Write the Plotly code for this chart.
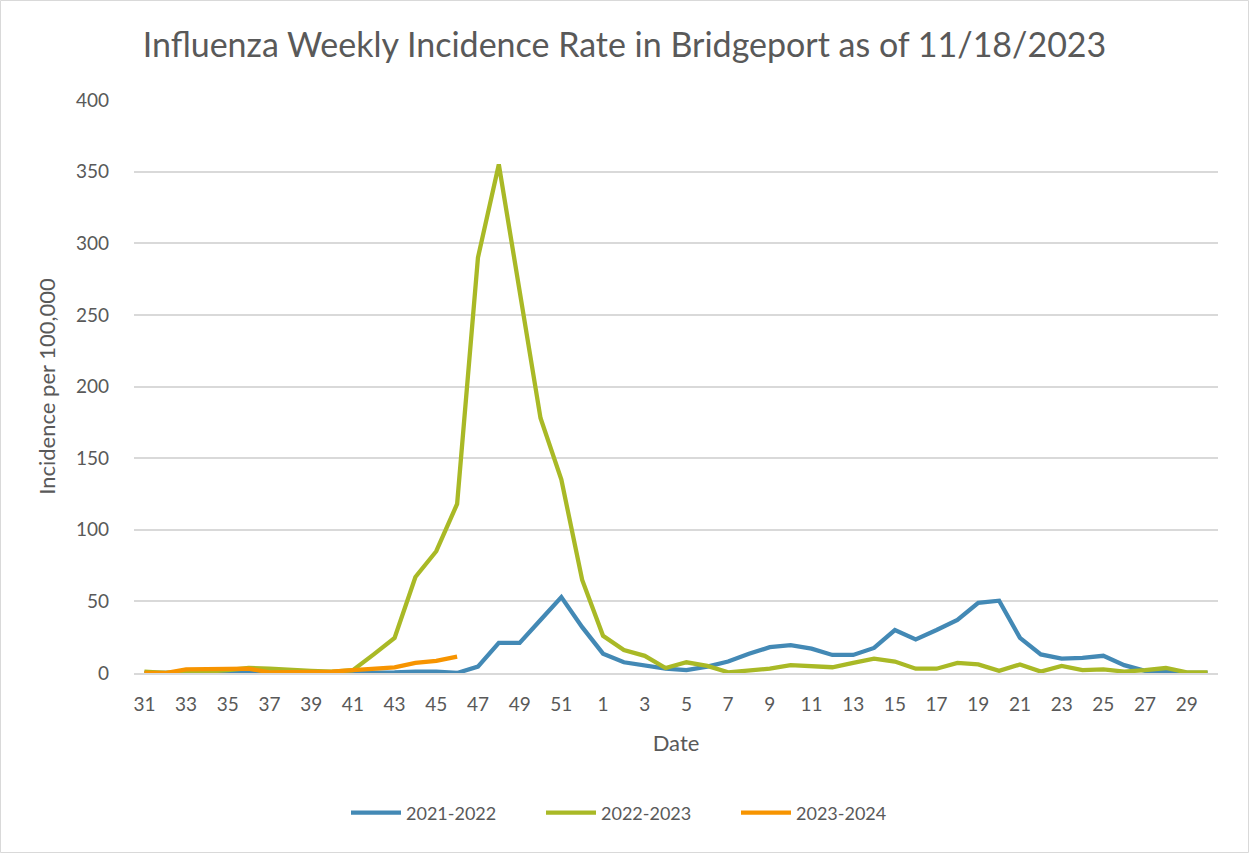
import plotly.graph_objects as go

weeks = [str(w) for w in list(range(31, 53)) + list(range(1, 31))]
tick_labels = [w for i, w in enumerate(weeks) if i % 2 == 0]

s2021 = [0, 0, 0, 0, 0, 0.5, 0, 0, 0, 0, 0, 0, 0.5, 1, 1, 0, 4.5, 21, 21, 37, 53, 32,
         13.5, 7.5, 5.5, 3, 2, 4.5, 8, 13.5, 18, 19.5, 17, 12.6, 12.6, 17.5, 30, 23.5,
         30, 37, 49, 50.5, 24.5, 13, 10, 10.5, 12, 5.5, 1.5, 0.5, 0, 0]
s2022 = [1, 0, 1, 1, 2, 3.5, 3, 2, 1.5, 1, 2, 13, 24.5, 67, 85, 118, 290, 355, 266,
         178, 135, 65, 26, 16, 12, 3.5, 7.5, 5, 0.5, 1.5, 3, 5.5, 4.5, 4, 7, 10, 8, 3,
         3, 7, 6, 1.5, 6, 1, 5, 2, 2.5, 1, 2, 3.5, 0.5, 0.5]
s2023 = [0, 0, 2.5, 2.5, 2.5, 3, 0.5, 0.5, 0.5, 1, 2, 3, 4, 7, 8.5, 11.5]

series = [("2021-2022", s2021, "#4389B5"),
          ("2022-2023", s2022, "#A9B926"),
          ("2023-2024", s2023, "#F79400")]

fig = go.Figure()
for name, vals, color in series:
    fig.add_trace(go.Scatter(
        x=weeks[:len(vals)], y=vals, mode="lines", name=name,
        line=dict(color=color, width=4.3)))

font_family = "Lato, 'Open Sans', sans-serif"
fig.update_layout(
    width=1249, height=853,
    margin=dict(l=134, r=31, t=100, b=180),
    paper_bgcolor="white", plot_bgcolor="white",
    font=dict(family=font_family, color="#595959", size=19),
    title=dict(text="Influenza Weekly Incidence Rate in Bridgeport as of 11/18/2023",
               x=0.5, xanchor="center", y=1 - 45 / 853, yanchor="middle",
               font=dict(size=34, color="#595959")),
    showlegend=True,
    legend=dict(orientation="h", x=(346 - 134) / 1084, xanchor="left",
                y=(673 - 813) / 573, yanchor="middle",
                font=dict(size=18, color="#595959"), itemwidth=50,
                entrywidth=130, entrywidthmode="pixels",
                traceorder="normal"),
    xaxis=dict(type="category", range=[-0.5, 51.5], tickmode="array",
               tickvals=tick_labels, ticktext=tick_labels, showgrid=False,
               showline=True, linecolor="#d9d9d9", linewidth=1.5, ticks="",
               ticklabelstandoff=13,
               tickfont=dict(size=19, color="#595959"),
               title=dict(text="Date", font=dict(size=22, color="#595959"), standoff=22)),
    yaxis=dict(range=[0, 400], dtick=50, showgrid=True, gridcolor="#d9d9d9",
               gridwidth=1.5, zeroline=False, ticks="", ticklabelstandoff=24,
               tickfont=dict(size=19, color="#595959"),
               title=dict(text="Incidence per 100,000", font=dict(size=22, color="#595959"),
                          standoff=14)),
    shapes=[dict(type="rect", xref="paper", yref="paper",
                 x0=(0.5 - 134) / 1084, x1=(1248.5 - 134) / 1084,
                 y0=(673 - 852.5) / 573, y1=(673 - 0.5) / 573,
                 line=dict(color="#d9d9d9", width=1), layer="below")],
)
fig.write_html("out.html", config={"displayModeBar": False},
               post_script="document.body.style.margin='0';")
